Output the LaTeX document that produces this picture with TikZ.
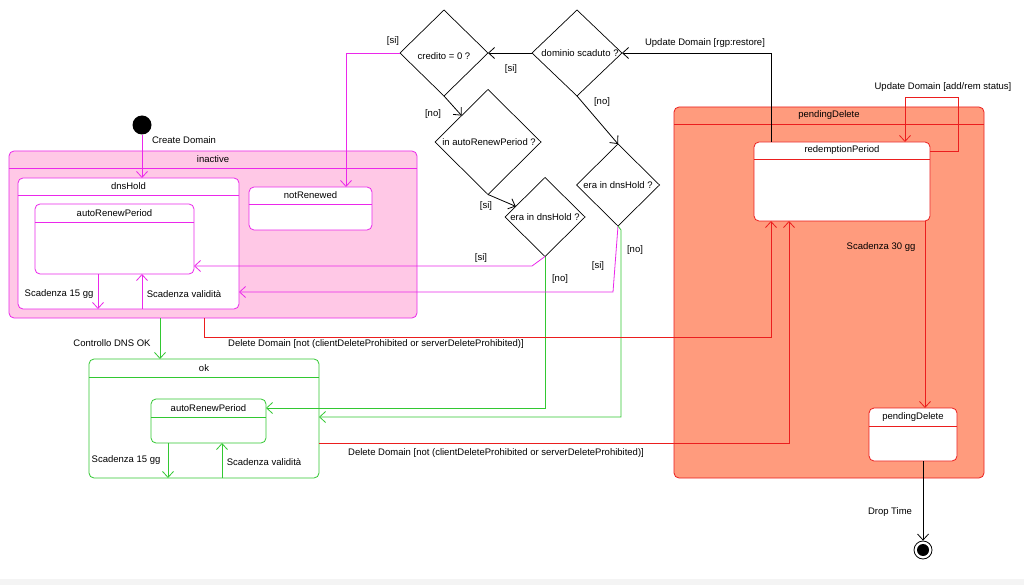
\documentclass[tikz,border=0pt]{standalone}
\usepackage{fontspec}
\setmainfont{Liberation Sans}
\usetikzlibrary{arrows.meta,shapes.geometric,calc}
\definecolor{mag}{RGB}{235,40,235}
\definecolor{pinkfill}{RGB}{255,200,230}
\definecolor{grn}{RGB}{50,200,50}
\definecolor{rd}{RGB}{235,30,30}
\definecolor{salmon}{RGB}{255,155,125}
\definecolor{strip}{RGB}{244,244,244}
\newcommand\ustate[8]{%
  \node[#8, anchor=north west, minimum width=#4pt-#2pt, minimum height=#5pt-#3pt] (#1) at (#2,#3) {};
  \draw[#8, fill=none, rounded corners=0pt] (#2,#6) -- (#4,#6);
  \node[lbl] (#1t) at ({(#2+#4)/2},{(#3+#6)/2}) {#7};}
\begin{document}
\begin{tikzpicture}[x=1pt,y=-1pt,
  font=\fontsize{9.5}{11}\selectfont,
  lbl/.style={inner sep=0pt},
  base/.style={line width=0.8pt, inner sep=0pt, outer sep=0pt, rounded corners=5pt},
  stM/.style={base, draw=mag, fill=white},
  stMc/.style={base, draw=mag, fill=pinkfill},
  stG/.style={base, draw=grn, fill=white},
  stR/.style={base, draw=rd, fill=white},
  stRc/.style={base, draw=rd, fill=salmon},
  dia/.style={diamond, draw=black, line width=0.7pt, inner sep=0pt, outer sep=0pt},
  arr/.style={line width=0.8pt, -{Straight Barb[length=6pt,width=11pt]}},
  marr/.style={arr, draw=mag},
  garr/.style={arr, draw=grn},
  rarr/.style={arr, draw=rd},
  karr/.style={arr, draw=black}]
\useasboundingbox (0,0) rectangle (1024,585);
\fill[white] (0,0) rectangle (1024,585);
\fill[strip] (0,579) rectangle (1024,585);

% composite states
\ustate{inact}{9}{151}{417}{318}{168}{inactive}{stMc}
\ustate{dns}{18}{178}{239}{309}{195}{dnsHold}{stM}
\ustate{arpI}{35}{204}{194}{274}{222}{autoRenewPeriod}{stM}
\ustate{nr}{249}{187}{372}{230}{204}{notRenewed}{stM}
\ustate{ok}{89}{359}{319}{478}{377}{ok}{stG}
\ustate{arpO}{151}{399}{266}{443}{417}{autoRenewPeriod}{stG}
\ustate{pdc}{674}{107}{984}{478}{124}{pendingDelete}{stRc}
\ustate{red}{754}{142}{930}{221}{159}{redemptionPeriod}{stR}
\ustate{pd}{869}{408}{957}{461}{426}{pendingDelete}{stR}

% initial and final
\node[circle, fill=black, minimum size=19pt, inner sep=0pt] (init) at (142,125) {};
\node[circle, draw=black, line width=0.8pt, minimum size=18pt, inner sep=0pt] (final) at (923,550) {};
\node[circle, fill=black, minimum size=12pt, inner sep=0pt] (finalin) at (final) {};

% decisions
\node[dia, minimum width=88pt, minimum height=86pt] (cred) at (444,53) {};
\node[lbl] (credt) at (444,56) {credito = 0 ?};
\node[dia, minimum width=90pt, minimum height=86pt] (dom) at (577,53) {};
\node[lbl] (domt) at (580,53) {dominio scaduto ?};
\node[dia, minimum width=106pt, minimum height=105pt] (auto) at (488,142) {};
\node[lbl] (autot) at (489,142) {in autoRenewPeriod ?};
\node[dia, minimum width=80pt, minimum height=79pt] (eraL) at (545,217) {};
\node[lbl] (eraLt) at (545,217) {era in dnsHold ?};
\node[dia, minimum width=83pt, minimum height=82pt] (eraR) at (618,185) {};
\node[lbl] (eraRt) at (618,185) {era in dnsHold ?};

% connectors
\draw[marr] (init) -- (init |- dns.north);
\node[lbl] (l1) at (184,140) {Create Domain};
\draw[marr] (arpI.south -| 98,0) -- (dns.south -| 98,0);
\node[lbl] (l2) at (59,294) {Scadenza 15 gg};
\draw[marr] (dns.south -| 142,0) -- (arpI.south -| 142,0);
\node[lbl] (l3) at (184,294) {Scadenza validità};

\draw[marr] (cred.west) -| (nr.north -| 346,0);
\node[lbl] (l4) at (393,41) {[si]};
\draw[karr] (dom.west) -- (cred.east);
\node[lbl] (l5) at (511,69) {[si]};
\draw[karr] (red.north -| 771,0) |- (dom.east);
\node[lbl] (l6) at (705,43) {Update Domain [rgp:restore]};
\draw[karr] (dom.south) -- (eraR.north);
\node[lbl] (l7) at (602,102) {[no]};
\draw[karr] (cred.south) -- (auto.135);
\node[lbl] (l8) at (433,114) {[no]};
\draw[karr] (auto.south) -- (eraL.160);
\node[lbl] (l9) at (486,206) {[si]};

\draw[marr] (eraL.south) -- (532,266) -- (arpI.east |- 0,266);
\node[lbl] (l10) at (481,258) {[si]};
\draw[garr] (eraL.south) -- (eraL.south |- 0,408) -- (arpO.east |- 0,408);
\node[lbl] (l11) at (560,279) {[no]};
\draw[marr] (eraR.south) -- (613,292) -- (dns.east |- 0,292);
\node[lbl] (l12) at (598,266) {[si]};
\draw[garr] (eraR.south) -- (621,230) -- (621,417) -- (ok.east |- 0,417);
\node[lbl] (l13) at (635,250) {[no]};

\draw[rarr] (inact.south -| 204,0) |- (771,337) -- (red.south -| 771,0);
\node[lbl] (l14) at (376,344) {Delete Domain [not (clientDeleteProhibited or serverDeleteProhibited)]};
\draw[rarr] (ok.east |- 0,443) -| (red.south -| 789,0);
\node[lbl] (l15) at (496,453) {Delete Domain [not (clientDeleteProhibited or serverDeleteProhibited)]};

\draw[garr] (inact.south -| 160,0) -- (ok.north -| 160,0);
\node[lbl] (l16) at (112,343) {Controllo DNS OK};
\draw[garr] (arpO.south -| 168,0) -- (ok.south -| 168,0);
\node[lbl] (l17) at (126,460) {Scadenza 15 gg};
\draw[garr] (ok.south -| 222,0) -- (arpO.south -| 222,0);
\node[lbl] (l18) at (264,462) {Scadenza validità};

\draw[rarr] (red.east |- 0,151) -| (958,97) -| (red.north -| 905,0);
\node[lbl] (l19) at (943,87) {Update Domain [add/rem status]};
\draw[rarr] (red.south -| 925,0) -- (pd.north -| 925,0);
\node[lbl] (l20) at (881,247) {Scadenza 30 gg};
\draw[karr] (pd.south -| 923,0) -- (final.north);
\node[lbl] (l21) at (890,512) {Drop Time};
\end{tikzpicture}
\end{document}
